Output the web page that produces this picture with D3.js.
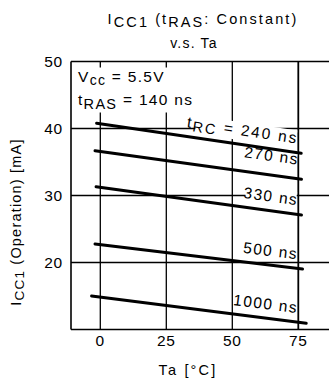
<!DOCTYPE html>
<html><head><meta charset="utf-8">
<script src="https://cdn.jsdelivr.net/npm/d3@7"></script>
<style>
body{margin:0;background:#fff;}
svg{display:block;font-family:"Liberation Sans",Arial,Helvetica,sans-serif;}
</style></head>
<body><svg id="c" width="329" height="383"></svg>
<script>
// ---- data ----
const xTicks = [0, 25, 50, 75];
const yTicks = [50, 40, 30, 20];
const seriesNames = ["240 ns", "270 ns", "330 ns", "500 ns", "1000 ns"];
const taStart = [-1.4, -2.0, -1.6, -2.0, -3.3];
const taEnd   = [76.1, 76.2, 76.2, 76.6, 78.0];
const iccStart = [40.78, 36.69, 31.31, 22.76, 15.0];
const iccEnd   = [36.30, 32.42, 27.09, 19.03, 10.93];

(function () {
const svg = d3.select("#c");
const pL = 71, pR = 329, pT = 61.5, pB = 329.5;
const x = d3.scaleLinear().domain([0, 75]).range([100.3, 298.3]);
const y = d3.scaleLinear().domain([10, 50]).range([pB, pT]);

const halo = s => s.attr("stroke", "#fff").attr("stroke-width", 4).attr("paint-order", "stroke").attr("stroke-linejoin","round");

// layers
const gridL = svg.append("g").attr("stroke", "#000");
const bgL = svg.append("g");
const lineL = svg.append("g");
const textL = svg.append("g");

// grid
gridL.selectAll(".vx").data(xTicks).join("line")
  .attr("x1", d => x(d)).attr("x2", d => x(d)).attr("y1", pT).attr("y2", pB)
  .attr("stroke-width", d => d === 75 ? 1.8 : 1.3);
gridL.selectAll(".hy").data(yTicks.filter(d => d !== 50)).join("line")
  .attr("x1", pL).attr("x2", pR).attr("y1", d => y(d)).attr("y2", d => y(d))
  .attr("stroke-width", 1.3);
// frame
gridL.append("line").attr("x1", pL).attr("x2", pR).attr("y1", pT).attr("y2", pT).attr("stroke-width", 1.6);
gridL.append("line").attr("x1", pL).attr("x2", pR).attr("y1", pB).attr("y2", pB).attr("stroke-width", 1.6);
gridL.append("line").attr("x1", pL).attr("x2", pL).attr("y1", pT).attr("y2", pB).attr("stroke-width", 1.6);

// white box behind condition text
bgL.append("rect").attr("x", pL + 2).attr("y", pT + 6).attr("width", 130).attr("height", 45).attr("fill", "#fff");

// condition text box
const t1 = textL.append("text").attr("x", 78).attr("y", 82).attr("font-size", 15.5)
  .attr("letter-spacing", 1.3).call(halo);
t1.append("tspan").text("V");
t1.append("tspan").attr("dy", 3).attr("font-size", 14).text("cc");
t1.append("tspan").attr("dy", -3).text(" = 5.5V");
const t2 = textL.append("text").attr("x", 78).attr("y", 105).attr("font-size", 15.5)
  .attr("letter-spacing", 1.3).call(halo);
t2.append("tspan").text("t");
t2.append("tspan").attr("dy", 4).attr("font-size", 14.5).text("RAS");
t2.append("tspan").attr("dy", -4).text(" = 140 ns");

// series lines
const line = d3.line().x(d => x(d[0])).y(d => y(d[1]));
const pts = seriesNames.map((n, i) => [[taStart[i], iccStart[i]], [taEnd[i], iccEnd[i]]]);
lineL.selectAll("path").data(pts).join("path")
  .attr("d", line).attr("fill", "none").attr("stroke", "#000")
  .attr("stroke-width", 3).attr("stroke-linecap", "round");

// series labels (white background under lines, text on top)
const labTa = 74.2;
seriesNames.forEach((n, i) => {
  const p = pts[i];
  const x0 = x(p[0][0]), y0 = y(p[0][1]), x1 = x(p[1][0]), y1 = y(p[1][1]);
  const ang = Math.atan2(y1 - y0, x1 - x0) * 180 / Math.PI;
  const lx = x(labTa);
  const ly = y0 + (lx - x0) * (y1 - y0) / (x1 - x0);
  const tf = `translate(${lx},${ly}) rotate(${ang}) translate(0,${i === 1 ? -14 : -9})`;
  const t = textL.append("text").attr("transform", tf).attr("text-anchor", "end")
    .attr("font-size", 15.5).attr("letter-spacing", i === 0 ? 1.9 : 1.4);
  if (i === 0) {
    t.append("tspan").text("t");
    t.append("tspan").attr("dy", 3).attr("font-size", 14.5).text("RC");
    t.append("tspan").attr("dy", -3).text(" = " + n);
  } else t.text(n);
  const b = t.node().getBBox();
  const padL = i === 0 ? 9 : 2;
  bgL.append("rect").attr("transform", tf).attr("fill", "#fff")
    .attr("x", b.x + padL).attr("y", b.y + 1)
    .attr("width", b.width - padL - 2).attr("height", b.height - 2);
});

// tick labels
textL.append("g").selectAll("text").data(yTicks).join("text")
  .attr("x", 63).attr("y", d => y(d) + 5.5).attr("text-anchor", "end")
  .attr("font-size", 15.5).attr("letter-spacing", 0.8).text(d => d);
textL.append("g").selectAll("text").data(xTicks).join("text")
  .attr("x", d => x(d)).attr("y", 346).attr("text-anchor", "middle")
  .attr("font-size", 15.5).attr("letter-spacing", 0.8).text(d => d);

// axis titles
textL.append("text").attr("x", 188).attr("y", 375).attr("text-anchor", "middle")
  .attr("font-size", 14.5).attr("letter-spacing", 2.2).text("Ta [°C]");
const yl = textL.append("text").attr("transform", "translate(21,222) rotate(-90)")
  .attr("text-anchor", "middle").attr("font-size", 14.5).attr("letter-spacing", 1.2);
yl.append("tspan").text("I");
yl.append("tspan").attr("dy", 3).attr("font-size", 13.5).text("CC1");
yl.append("tspan").attr("dy", -3).text(" (Operation) [mA]");

// title
const tt = textL.append("text").attr("x", 203).attr("y", 24).attr("text-anchor", "middle")
  .attr("font-size", 14.5).attr("letter-spacing", 2.1);
tt.append("tspan").text("I");
tt.append("tspan").attr("dy", 3).text("CC1");
tt.append("tspan").attr("dy", -3).text(" (t");
tt.append("tspan").attr("dy", 3).text("RAS");
tt.append("tspan").attr("dy", -3).text(":  Constant)");
textL.append("text").attr("x", 194).attr("y", 48).attr("text-anchor", "middle")
  .attr("font-size", 14).attr("letter-spacing", 1.2).text("v.s. Ta");
})();
</script></body></html>
